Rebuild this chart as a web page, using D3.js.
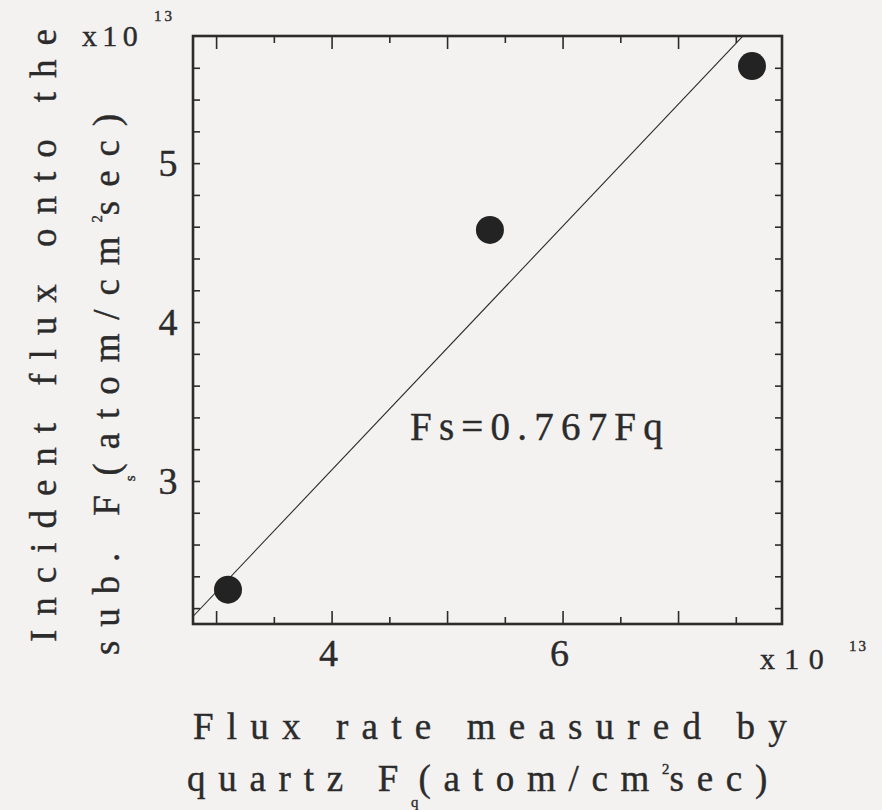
<!DOCTYPE html>
<html><head><meta charset="utf-8">
<script src="https://cdn.jsdelivr.net/npm/d3@7"></script>
<style>html,body{margin:0;padding:0;background:#f3f2f1}</style>
</head><body>
<svg id="c" width="882" height="810"></svg>
<script>
// ---- data ----
const fluxQuartz = [3.103, 5.371, 7.640];   // x (×10^13)
const fluxSub    = [2.316, 4.580, 5.611];   // y (×10^13)
const fitSlope   = 0.767;                   // Fs = 0.767 Fq
const xDomain    = [2.8, 7.9];
const yDomain    = [2.1, 5.8];
const xMajorTicks = [3, 4, 5, 6, 7];
const xMinorTicks = [3.5, 4.5, 5.5, 6.5, 7.5];
const xTickLabels = [4, 6];
const yTicks      = [2.2, 2.4, 2.6, 2.8, 3.0, 3.2, 3.4, 3.6, 3.8, 4.0, 4.2, 4.4, 4.6, 4.8, 5.0, 5.2, 5.4, 5.6];
const yTickLabels = [3, 4, 5];

// ---- layout ----
const W = 882, H = 810;
const L = 193, R = 782, T = 36, B = 624;
const ink = "#2b2b2b";
const FONT = "'Liberation Serif', 'DejaVu Serif', serif";

const svg = d3.select("#c");
svg.append("rect").attr("width", W).attr("height", H).attr("fill", "#f3f2f1");

const x = d3.scaleLinear().domain(xDomain).range([L, R]);
const y = d3.scaleLinear().domain(yDomain).range([B, T]);

svg.append("clipPath").attr("id", "plotclip").append("rect")
  .attr("x", L).attr("y", T).attr("width", R - L).attr("height", B - T);

// fit line
svg.append("line")
  .attr("clip-path", "url(#plotclip)")
  .attr("x1", x(xDomain[0])).attr("y1", y(fitSlope * xDomain[0]))
  .attr("x2", x(xDomain[1])).attr("y2", y(fitSlope * xDomain[1]))
  .attr("stroke", ink).attr("stroke-width", 1.1);

// axes (ticks inward)
function styleAxis(g) {
  g.select(".domain").remove();
  g.selectAll(".tick line").attr("stroke", ink).attr("stroke-width", 1.6);
  g.selectAll(".tick text").remove();
}
svg.append("g").attr("transform", `translate(0,${B})`)
  .call(d3.axisBottom(x).tickValues(xMajorTicks).tickSize(-13).tickFormat("")).call(styleAxis);
svg.append("g").attr("transform", `translate(0,${B})`)
  .call(d3.axisBottom(x).tickValues(xMinorTicks).tickSize(-7).tickFormat("")).call(styleAxis);
svg.append("g").attr("transform", `translate(0,${T})`)
  .call(d3.axisTop(x).tickValues(xMajorTicks).tickSize(-13).tickFormat("")).call(styleAxis);
svg.append("g").attr("transform", `translate(0,${T})`)
  .call(d3.axisTop(x).tickValues(xMinorTicks).tickSize(-7).tickFormat("")).call(styleAxis);
svg.append("g").attr("transform", `translate(${L},0)`)
  .call(d3.axisLeft(y).tickValues(yTicks).tickSize(-7).tickFormat("")).call(styleAxis);
svg.append("g").attr("transform", `translate(${R},0)`)
  .call(d3.axisRight(y).tickValues(yTicks).tickSize(-7).tickFormat("")).call(styleAxis);

// frame
svg.append("rect").attr("x", L).attr("y", T).attr("width", R - L).attr("height", B - T)
  .attr("fill", "none").attr("stroke", ink).attr("stroke-width", 2.6);

// points
svg.selectAll("circle.pt").data(fluxQuartz.map((v, i) => [v, fluxSub[i]])).join("circle")
  .attr("class", "pt")
  .attr("cx", d => x(d[0])).attr("cy", d => y(d[1])).attr("r", 14)
  .attr("fill", "#232323");

// tick labels
svg.selectAll("text.xl").data(xTickLabels).join("text")
  .attr("class", "xl")
  .attr("x", d => x(d) - 3).attr("y", 666)
  .attr("text-anchor", "middle").attr("font-family", FONT).attr("font-size", 38)
  .attr("fill", ink).attr("stroke", ink).attr("stroke-width", 0.4).text(d => d);
svg.selectAll("text.yl").data(yTickLabels).join("text")
  .attr("class", "yl")
  .attr("x", 168).attr("y", d => y(d) + 13)
  .attr("text-anchor", "middle").attr("font-family", FONT).attr("font-size", 38)
  .attr("fill", ink).attr("stroke", ink).attr("stroke-width", 0.4).text(d => d);

// text helper: parts = [[string, kind]] kind: "n" normal, "sub", "sup"
function label(parts, size, tx, ty, rot, target) {
  const t = svg.append("text")
    .attr("transform", `translate(${tx},${ty})` + (rot ? ` rotate(${rot})` : ""))
    .attr("font-family", FONT).attr("font-size", size).attr("fill", ink)
    .attr("stroke", ink).attr("stroke-width", 0.4);
  let shift = 0;
  parts.forEach(([s, k]) => {
    const sp = t.append("tspan").text(s);
    let want = 0;
    if (k === "sub") { want = size * 0.42; sp.attr("font-size", size * 0.4).attr("letter-spacing", "0px"); }
    else if (k === "sup") { want = -size * 0.45; sp.attr("font-size", size * 0.4).attr("letter-spacing", "0px"); }
    const dy = want - shift;
    if (dy !== 0) sp.attr("dy", dy);
    shift = want;
  });
  if (target) {
    const node = t.node();
    t.attr("letter-spacing", "0px");
    const w0 = node.getComputedTextLength();
    t.attr("letter-spacing", "10px");
    const w1 = node.getComputedTextLength();
    const ls = 10 * (target - w0) / (w1 - w0);
    t.attr("letter-spacing", ls + "px");
  }
  return t;
}

// equation
label([["Fs=0.767Fq", "n"]], 39, 410, 440, 0, 260);

// multipliers
label([["x10", "n"]], 30, 82, 46, 0, 61);
label([["13", "n"]], 15, 154, 21, 0, 21);
label([["x10", "n"]], 30, 760, 669, 0, 73);
label([["13", "n"]], 15, 849, 651, 0, 19);

// x axis title
label([["Flux rate measured by", "n"]], 37, 193, 739, 0, 607);
label([["quartz F", "n"], ["q", "sub"], ["(atom/cm", "n"], ["2", "sup"], ["sec)", "n"]], 37, 187, 791, 0, 593);

// y axis title
label([["Incident flux onto the", "n"]], 37, 56, 642, -90, 627);
label([["sub. F", "n"], ["s", "sub"], ["(atom/cm", "n"], ["2", "sup"], ["sec)", "n"]], 37, 119, 655, -90, 555);
</script>
</body></html>
